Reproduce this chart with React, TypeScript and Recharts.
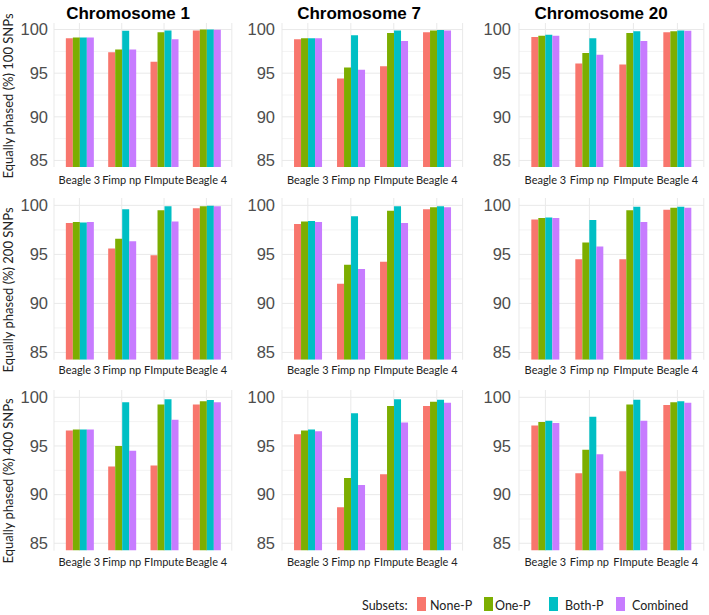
import React from 'react';
import { BarChart, Bar, XAxis, YAxis, CartesianGrid } from 'recharts';

const categories = ['Beagle 3', 'Fimp np', 'FImpute', 'Beagle 4'];
const seriesNames = ['None-P', 'One-P', 'Both-P', 'Combined'];
const seriesColors = ['#F8766D', '#7CAE00', '#00BFC4', '#C77CFF'];
const chromosomes = ['Chromosome 1', 'Chromosome 7', 'Chromosome 20'];
const snpLabels = ['Equally phased (%) 100 SNPs', 'Equally phased (%) 200 SNPs', 'Equally phased (%) 400 SNPs'];
const yTicks = [85, 90, 95, 100];
const minorTicks = [87.5, 92.5, 97.5];

// values: one row per series (None-P, One-P, Both-P, Combined), one column per category
const chr1_100 = [
  [99.0, 97.4, 96.3, 99.9],
  [99.1, 97.7, 99.7, 100.0],
  [99.1, 99.85, 99.9, 100.0],
  [99.1, 97.7, 98.9, 99.98],
];
const chr7_100 = [
  [98.9, 94.4, 95.8, 99.7],
  [99.0, 95.65, 99.6, 99.9],
  [99.0, 99.35, 99.9, 99.95],
  [99.0, 95.4, 98.7, 99.9],
];
const chr20_100 = [
  [99.15, 96.1, 96.0, 99.7],
  [99.3, 97.3, 99.6, 99.8],
  [99.4, 99.0, 99.8, 99.9],
  [99.3, 97.1, 98.7, 99.85],
];
const chr1_200 = [
  [98.2, 95.6, 94.9, 99.7],
  [98.3, 96.6, 99.5, 99.9],
  [98.25, 99.6, 99.9, 99.95],
  [98.3, 96.35, 98.35, 99.9],
];
const chr7_200 = [
  [98.1, 92.0, 94.25, 99.6],
  [98.35, 93.95, 99.45, 99.8],
  [98.4, 98.9, 99.9, 99.9],
  [98.3, 93.5, 98.2, 99.8],
];
const chr20_200 = [
  [98.55, 94.5, 94.5, 99.55],
  [98.7, 96.2, 99.5, 99.75],
  [98.75, 98.5, 99.85, 99.85],
  [98.7, 95.8, 98.3, 99.75],
];
const chr1_400 = [
  [96.6, 92.9, 93.0, 99.25],
  [96.7, 95.0, 99.25, 99.6],
  [96.7, 99.5, 99.8, 99.73],
  [96.7, 94.5, 97.7, 99.5],
];
const chr7_400 = [
  [96.2, 88.7, 92.1, 99.1],
  [96.6, 91.7, 99.1, 99.55],
  [96.7, 98.35, 99.8, 99.75],
  [96.5, 91.0, 97.4, 99.45],
];
const chr20_400 = [
  [97.1, 92.2, 92.4, 99.2],
  [97.45, 94.6, 99.25, 99.5],
  [97.6, 98.0, 99.75, 99.6],
  [97.35, 94.15, 97.6, 99.45],
];

const panelValues = [
  [chr1_100, chr7_100, chr20_100],
  [chr1_200, chr7_200, chr20_200],
  [chr1_400, chr7_400, chr20_400],
];

// layout (plot area boxes)
const colBoxes = [
  { left: 53.6, right: 231.4, tickMargin: 6 },
  { left: 282.2, right: 462.8, tickMargin: 7 },
  { left: 518.6, right: 703.4, tickMargin: 8 },
];
const rowBoxes = [
  { top: 22.5, bottom: 166.5, xMargin: 9 },
  { top: 197.6, bottom: 359.4, xMargin: 6 },
  { top: 389.7, bottom: 550.3, xMargin: 8 },
];
const titleCenters = [128, 359, 601];
const rowLabelCenters = [96, 290, 481];

const Y_AXIS_W = 44;
const X_AXIS_H = 30;

function buildData(vals: number[][]) {
  return categories.map((c, i) => {
    const row: any = { category: c };
    seriesNames.forEach((s, k) => {
      row[s] = vals[k][i];
    });
    return row;
  });
}

function Panel({ r, c }: { r: number; c: number }) {
  const col = colBoxes[c];
  const row = rowBoxes[r];
  const plotW = col.right - col.left;
  const plotH = row.bottom - row.top;
  const mTop = 4;
  const width = plotW + Y_AXIS_W + 2;
  const height = plotH + mTop + X_AXIS_H;
  const data = buildData(panelValues[r][c]);
  const bw = plotW / 4.2;
  const pad = bw * 0.1;
  return (
    <div style={{ position: 'absolute', left: col.left - Y_AXIS_W, top: row.top - mTop, width, height }}>
      <BarChart
        width={width}
        height={height}
        data={data}
        margin={{ top: mTop, right: 2, left: 0, bottom: 0 }}
        barCategoryGap="18%"
        barGap={0}
      >
        <CartesianGrid stroke="#f3f3f3" strokeWidth={1} vertical={false} horizontalValues={minorTicks} />
        <CartesianGrid stroke="#e9e9e9" strokeWidth={1} horizontalValues={yTicks} />
        <XAxis
          dataKey="category"
          axisLine={false}
          tickLine={false}
          tickSize={0}
          tickMargin={row.xMargin}
          height={X_AXIS_H}
          padding={{ left: pad, right: pad }}
          interval={0}
          tick={{ fontFamily: 'Lato, sans-serif', fontSize: 11, fill: '#222' }}
        />
        <YAxis
          domain={[84.25, 100.75]}
          allowDataOverflow
          ticks={yTicks}
          axisLine={false}
          tickLine={false}
          tickSize={0}
          tickMargin={col.tickMargin}
          width={Y_AXIS_W}
          tick={{ fontFamily: '"Liberation Sans", Arial, sans-serif', fontSize: 16.5, fill: '#4d4d4d' }}
        />
        {seriesNames.map((s, k) => (
          <Bar key={s} dataKey={s} fill={seriesColors[k]} isAnimationActive={false} />
        ))}
      </BarChart>
    </div>
  );
}

const legendItems = [
  { textX: 430, boxX: 417 },
  { textX: 495, boxX: 484 },
  { textX: 565, boxX: 549 },
  { textX: 632, boxX: 616 },
];

export default function App() {
  return (
    <div style={{ position: 'absolute', left: 0, top: 0, width: 709, height: 615, background: '#fff', overflow: 'hidden' }}>
      {[0, 1, 2].map((r) => [0, 1, 2].map((c) => <Panel key={`${r}-${c}`} r={r} c={c} />))}
      <svg width={709} height={615} style={{ position: 'absolute', left: 0, top: 0, pointerEvents: 'none' }}>
        {chromosomes.map((t, i) => (
          <text
            key={t}
            x={titleCenters[i]}
            y={13}
            textAnchor="middle"
            dominantBaseline="central"
            fontFamily='"Liberation Sans", Arial, sans-serif'
            fontWeight="bold"
            fontSize={17}
            fill="#000"
          >
            {t}
          </text>
        ))}
        {snpLabels.map((t, i) => (
          <text
            key={t}
            x={0}
            y={0}
            transform={`translate(8, ${rowLabelCenters[i]}) rotate(-90)`}
            textAnchor="middle"
            dominantBaseline="central"
            fontFamily="Lato, sans-serif"
            fontSize={13}
            fill="#222"
          >
            {t}
          </text>
        ))}
        <text x={362} y={605} dominantBaseline="central" fontFamily="Lato, sans-serif" fontSize={12.5} fill="#222">
          Subsets:
        </text>
        {seriesNames.map((s, k) => (
          <g key={s}>
            <rect x={legendItems[k].boxX} y={597} width={9} height={14} fill={seriesColors[k]} />
            <text
              x={legendItems[k].textX}
              y={605}
              dominantBaseline="central"
              fontFamily="Lato, sans-serif"
              fontSize={12.5}
              fill="#222"
            >
              {s}
            </text>
          </g>
        ))}
      </svg>
    </div>
  );
}
